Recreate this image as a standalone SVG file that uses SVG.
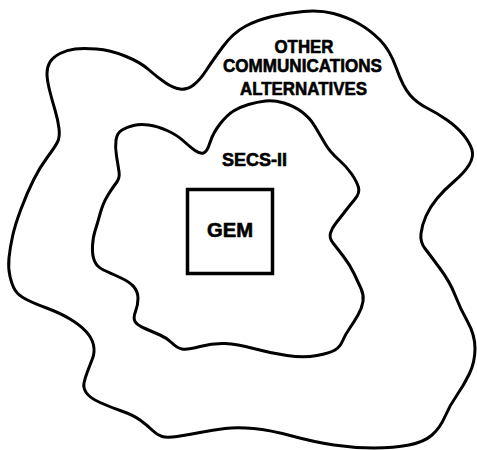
<svg xmlns="http://www.w3.org/2000/svg" width="477" height="450" viewBox="0 0 477 450">
<style>
.blob{fill:none;stroke:#000;stroke-width:3;stroke-linejoin:round}
.box{fill:#fff;stroke:#000;stroke-width:3.5}
.lbl{font-family:"Liberation Sans",Arial,sans-serif;font-weight:bold;font-size:18px;fill:#000;stroke:#000;stroke-width:0.6;text-anchor:middle}
</style>
<rect width="477" height="450" fill="#fff"/>
<g id="outer">
<path class="blob" d="M12.5,236.5 Q15,225 21,209 Q27,193 33.5,180 Q40,167 47.5,157 Q55,147 57.5,142 Q60,137 59,128.5 Q58,120 55,110 Q52,100 49.5,90 Q47,80 47,73.5 Q47,67 50,62 Q53,57 60,53.5 Q67,50 75,49 Q83,48 96.5,49 Q110,50 125,56 Q140,62 148.5,69.5 Q157,77 165,82.5 Q173,88 180,89 Q187,90 193.5,85 Q200,80 206.5,70 Q213,60 223,46.5 Q233,33 245,26.5 Q257,20 272,16.5 Q287,13 303.5,11.5 Q320,10 333.5,13.5 Q347,17 358.5,23.5 Q370,30 380,40 Q390,50 396.5,68.5 Q403,87 410,95 Q417,103 427,108 Q437,113 447,120 Q457,127 463.5,135 Q470,143 472,150 Q474,157 469,165 Q464,173 454,181.5 Q444,190 437,198.5 Q430,207 426,216 Q422,225 421,233.5 Q420,242 425,248.5 Q430,255 440,268.5 Q450,282 455,295 Q460,308 467.5,321.5 Q475,335 475,348.5 Q475,362 469.5,373.5 Q464,385 457,395 Q450,405 445,416.5 Q440,428 432,435 Q424,442 409,445 Q394,448 374,448 Q354,448 334,445 Q314,442 292,436 Q270,430 253.5,428.5 Q237,427 225,428.5 Q213,430 200,432.5 Q187,435 177,436.5 Q167,438 162,436.5 Q157,435 152,430 Q147,425 140,420 Q133,415 121.5,411 Q110,407 100,402.5 Q90,398 86.5,393 Q83,388 84,383 Q85,378 87.5,371.5 Q90,365 92.5,358.5 Q95,352 93.5,345 Q92,338 86,331.5 Q80,325 70,319 Q60,313 46.5,308 Q33,303 25.5,299 Q18,295 15,290 Q12,285 10,276.5 Q8,268 9,258 Q10,248 12.5,236.5 Z"/>
<text class="lbl" x="304" y="53" textLength="59" lengthAdjust="spacingAndGlyphs">OTHER</text>
<text class="lbl" x="302.5" y="72" textLength="159" lengthAdjust="spacingAndGlyphs">COMMUNICATIONS</text>
<text class="lbl" x="303.5" y="95" textLength="127" lengthAdjust="spacingAndGlyphs">ALTERNATIVES</text>
</g>
<g id="secs">
<path class="blob" d="M95,231 Q97,225 100,214 Q103,203 108,195 Q113,187 116.5,182.5 Q120,178 119,171.5 Q118,165 116.5,156 Q115,147 116,140 Q117,133 122,130 Q127,127 133.5,125.5 Q140,124 148.5,125 Q157,126 167,130.5 Q177,135 183.5,141 Q190,147 195,150.5 Q200,154 203.5,153 Q207,152 210,142.5 Q213,133 220,124 Q227,115 233.5,111 Q240,107 248.5,104.5 Q257,102 265.5,101 Q274,100 284,103 Q294,106 302,112 Q310,118 315,126.5 Q320,135 325,143.5 Q330,152 338.5,159.5 Q347,167 352,174.5 Q357,182 358.5,187.5 Q360,193 355,199 Q350,205 345,211.5 Q340,218 336,223 Q332,228 330.5,233 Q329,238 333,243 Q337,248 343.5,256.5 Q350,265 354,273.5 Q358,282 361,288.5 Q364,295 363,301.5 Q362,308 358,315 Q354,322 349.5,328.5 Q345,335 342.5,341 Q340,347 335,350 Q330,353 317,355.5 Q304,358 287,355.5 Q270,353 253.5,348.5 Q237,344 225,343.5 Q213,343 200,346.5 Q187,350 182,349 Q177,348 172,343 Q167,338 160,335 Q153,332 145,328.5 Q137,325 135,321.5 Q133,318 135.5,311.5 Q138,305 138,298.5 Q138,292 134,287 Q130,282 120,277.5 Q110,273 103.5,270 Q97,267 94.5,261 Q92,255 92.5,246 Q93,237 95,231 Z"/>
<text class="lbl" x="254.5" y="166" textLength="65" lengthAdjust="spacingAndGlyphs">SECS-II</text>
</g>
<g id="gem">
<rect class="box" x="187.5" y="189.5" width="85" height="84"/>
<text class="lbl" x="230" y="237" style="font-size:20px" textLength="46" lengthAdjust="spacingAndGlyphs">GEM</text>
</g>
<g id="connectors"/>
</svg>
